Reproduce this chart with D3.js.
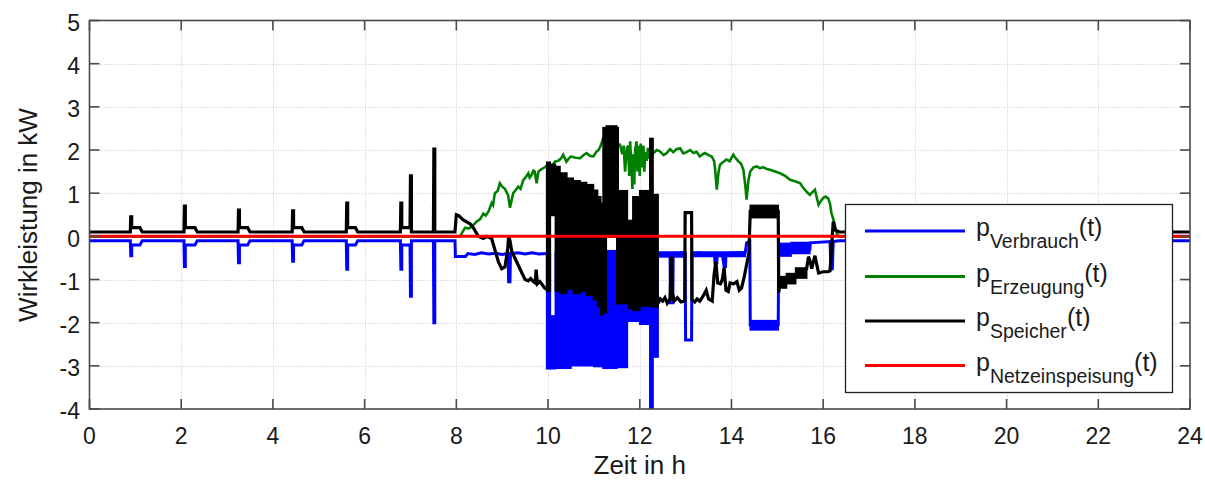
<!DOCTYPE html>
<html>
<head>
<meta charset="utf-8">
<script src="https://cdn.jsdelivr.net/npm/d3@7"></script>
<style>
  body { margin: 0; background: #fff; }
  svg { display: block; }
  text { font-family: "Liberation Sans", Arial, Helvetica, sans-serif; fill: #1a1a1a; }
</style>
</head>
<body>
<svg id="chart" width="1205" height="481"></svg>
<script>
// ---- axis ticks -------------------------------------------------------
const xTicks = [0, 2, 4, 6, 8, 10, 12, 14, 16, 18, 20, 22, 24];
const yTicks = [-4, -3, -2, -1, 0, 1, 2, 3, 4, 5];

// ---- series: [time in h, power in kW] --------------------------------
// consumption before the dense switching block
const verbrauchA = [
  [0, -0.1], [0.89, -0.1], [0.9, -0.45], [0.92, -0.45], [0.92, -0.2], [1.1, -0.2], [1.15, -0.1],
  [2.06, -0.1], [2.07, -0.7], [2.09, -0.7], [2.09, -0.2], [2.3, -0.2], [2.35, -0.1],
  [3.24, -0.1], [3.25, -0.61], [3.27, -0.61], [3.27, -0.2], [3.45, -0.2], [3.5, -0.1],
  [4.42, -0.1], [4.43, -0.58], [4.45, -0.58], [4.45, -0.2], [4.63, -0.2], [4.68, -0.1],
  [5.6, -0.1], [5.61, -0.76], [5.63, -0.76], [5.63, -0.2], [5.8, -0.2], [5.85, -0.1],
  [6.78, -0.1], [6.79, -0.76], [6.81, -0.76], [6.81, -0.2], [6.97, -0.2], [6.99, -0.2],
  [7.0, -1.39], [7.02, -1.39], [7.02, -0.1],
  [7.5, -0.1], [7.51, -2.0], [7.53, -2.0], [7.53, -0.1],
  [7.97, -0.1], [7.98, -0.47], [8.2, -0.47], [8.25, -0.4], [8.4, -0.42], [8.55, -0.38],
  [8.7, -0.41], [8.85, -0.39], [9.0, -0.42], [9.13, -0.4], [9.14, -1.05], [9.17, -1.05],
  [9.18, -0.4], [9.35, -0.38], [9.5, -0.41], [9.65, -0.38], [9.8, -0.41], [9.97, -0.4]
];
// consumption after the dense switching block
const verbrauchB = [
  [12.4, -0.4], [12.5, -0.42], [12.66, -0.4], [12.67, -1.54], [12.72, -1.54], [12.73, -0.42],
  [12.9, -0.38], [12.99, -0.4], [13.0, -2.4], [13.13, -2.4], [13.14, -0.4], [13.3, -0.38],
  [13.5, -0.42], [13.63, -0.4], [13.64, -0.62], [13.68, -0.62], [13.69, -0.42], [13.8, -0.4],
  [13.84, -0.7], [13.87, -0.7], [13.88, -0.4], [14.1, -0.38], [14.3, -0.38], [14.33, -0.15],
  [14.4, -0.12], [14.41, -2.05], [15.02, -2.05], [15.03, -0.3], [15.71, -0.3], [15.72, -0.15],
  [16.15, -0.12], [16.17, -0.75], [16.2, -0.75], [16.22, -0.12], [16.35, -0.1], [24, -0.1]
];
// rapidly switching intervals, drawn as filled envelopes: [t0, t1, low, high]
const verbrauchBands = [
  [9.97, 10.05, -3.05, -0.4],
  [10.05, 10.16, -3.05, -1.86],
  [10.16, 10.5, -3.04, -0.4],
  [10.5, 11.0, -2.98, -0.4],
  [11.0, 11.2, -3.0, -0.4],
  [11.2, 11.5, -3.04, -0.35],
  [11.5, 11.73, -3.02, -0.4],
  [11.73, 12.0, -1.95, -0.4],
  [12.0, 12.22, -2.02, -0.4],
  [12.22, 12.29, -4.0, -0.4],
  [12.29, 12.4, -2.78, -0.4],
  [12.4, 13.0, -0.46, -0.38],
  [13.13, 14.3, -0.45, -0.38],
  [14.41, 15.02, -2.15, -1.97],
  [15.03, 15.3, -0.44, -0.18],
  [15.3, 15.71, -0.38, -0.16]
];

// generation (PV)
const erzeugung = [
  [0, 0], [7.98, 0], [8.08, 0.0], [8.19, 0.2], [8.27, 0.18], [8.34, 0.23], [8.44, 0.34], [8.52, 0.4],
  [8.59, 0.53], [8.64, 0.48], [8.7, 0.57], [8.77, 0.77], [8.8, 0.72], [8.84, 1.0], [8.9, 1.05],
  [8.95, 1.23], [9.0, 1.15], [9.06, 1.1], [9.13, 0.95], [9.17, 0.66], [9.24, 1.0], [9.3, 1.08],
  [9.35, 1.15], [9.4, 1.1], [9.46, 1.3], [9.52, 1.38], [9.57, 1.46], [9.6, 1.36], [9.64, 1.42],
  [9.68, 1.52], [9.71, 1.5], [9.75, 1.23], [9.79, 1.5], [9.85, 1.55], [9.93, 1.6], [10.0, 1.66],
  [10.07, 1.6], [10.15, 1.73], [10.22, 1.75], [10.28, 1.8], [10.33, 1.89], [10.4, 1.73],
  [10.45, 1.8], [10.5, 1.85], [10.6, 1.82], [10.7, 1.81], [10.77, 1.88], [10.84, 1.93],
  [10.92, 1.86], [10.99, 1.85], [11.05, 1.95], [11.1, 2.0], [11.15, 2.1], [11.2, 2.27],
  [11.35, 2.2], [11.57, 2.12], [11.62, 1.9], [11.65, 2.1], [11.68, 1.5], [11.72, 2.05],
  [11.75, 2.1], [11.77, 1.4], [11.79, 2.2], [11.82, 1.6], [11.84, 1.1], [11.86, 1.9], [11.88, 1.2],
  [11.9, 2.0], [11.93, 2.2], [11.95, 1.5], [11.97, 2.1], [12.0, 1.4], [12.02, 2.15], [12.04, 1.6],
  [12.08, 2.1], [12.1, 1.5], [12.12, 1.95], [12.15, 1.75], [12.18, 2.05], [12.2, 1.8],
  [12.25, 2.0], [12.3, 1.93], [12.37, 2.0], [12.44, 1.97], [12.52, 1.88], [12.59, 1.93],
  [12.66, 2.02], [12.73, 1.95], [12.8, 2.02], [12.88, 2.04], [12.95, 1.92], [13.02, 1.95],
  [13.1, 2.0], [13.17, 1.93], [13.24, 1.96], [13.31, 1.85], [13.37, 1.9], [13.42, 1.93],
  [13.5, 1.88], [13.57, 1.85], [13.62, 1.75], [13.64, 1.6], [13.68, 1.08], [13.72, 1.5],
  [13.75, 1.66], [13.82, 1.72], [13.89, 1.78], [13.96, 1.74], [14.04, 1.89], [14.1, 1.8],
  [14.15, 1.74], [14.21, 1.68], [14.26, 1.54], [14.3, 1.2], [14.33, 0.85], [14.37, 1.3],
  [14.41, 1.5], [14.48, 1.6], [14.55, 1.62], [14.62, 1.58], [14.7, 1.6], [14.77, 1.56],
  [14.84, 1.54], [14.95, 1.5], [15.06, 1.46], [15.17, 1.4], [15.28, 1.31], [15.4, 1.27],
  [15.5, 1.23], [15.55, 1.15], [15.6, 1.08], [15.65, 1.02], [15.71, 0.96], [15.76, 1.02],
  [15.82, 1.08], [15.86, 0.9], [15.9, 0.73], [15.95, 0.82], [16.0, 0.89], [16.05, 0.92],
  [16.11, 0.88], [16.15, 0.75], [16.18, 0.54], [16.22, 0.4], [16.26, 0.23], [16.3, 0.05],
  [16.35, 0], [24, 0]
];

// storage before the dense switching block
const speicherA = [
  [0, 0.1], [0.89, 0.1], [0.9, 0.45], [0.92, 0.45], [0.92, 0.2], [1.1, 0.2], [1.15, 0.1],
  [2.06, 0.1], [2.07, 0.7], [2.09, 0.7], [2.09, 0.2], [2.3, 0.2], [2.35, 0.1],
  [3.24, 0.1], [3.25, 0.61], [3.27, 0.61], [3.27, 0.2], [3.45, 0.2], [3.5, 0.1],
  [4.42, 0.1], [4.43, 0.59], [4.45, 0.59], [4.45, 0.2], [4.63, 0.2], [4.68, 0.1],
  [5.6, 0.1], [5.61, 0.77], [5.63, 0.77], [5.63, 0.2], [5.8, 0.2], [5.85, 0.1],
  [6.78, 0.1], [6.79, 0.77], [6.81, 0.77], [6.81, 0.2], [6.97, 0.2], [6.99, 0.2],
  [7.0, 1.4], [7.02, 1.4], [7.02, 0.1],
  [7.5, 0.1], [7.51, 2.02], [7.53, 2.02], [7.53, 0.1],
  [7.97, 0.1], [8.0, 0.5], [8.05, 0.48], [8.15, 0.38], [8.3, 0.29], [8.37, 0.2], [8.48, 0.0],
  [8.59, -0.05], [8.66, 0.0], [8.77, -0.05], [8.84, -0.31], [8.92, -0.6], [8.99, -0.75],
  [9.06, -0.71], [9.12, -0.3], [9.14, 0.0], [9.17, -0.1], [9.21, -0.35], [9.32, -0.6],
  [9.43, -0.85], [9.5, -1.0], [9.57, -1.03], [9.62, -0.98], [9.68, -1.05], [9.72, -1.08],
  [9.74, -0.77], [9.77, -1.1], [9.82, -1.05], [9.86, -1.1], [9.93, -1.2], [9.97, -1.22]
];
// storage after the dense switching block
const speicherB = [
  [12.4, -1.55], [12.45, -1.45], [12.5, -1.5], [12.55, -1.42], [12.6, -1.55], [12.66, -1.45],
  [12.69, -0.47], [12.71, -1.3], [12.75, -1.5], [12.82, -1.42], [12.9, -1.52], [12.98, -1.5],
  [12.99, 0.55], [13.13, 0.55], [13.14, -1.47], [13.2, -1.52], [13.25, -1.45], [13.31, -1.5],
  [13.36, -1.42], [13.4, -1.35], [13.45, -1.25], [13.5, -1.45], [13.58, -1.5], [13.62, -0.9],
  [13.66, -0.58], [13.7, -1.08], [13.76, -1.1], [13.8, -1.0], [13.84, -0.73], [13.88, -1.25],
  [13.93, -1.28], [13.97, -1.08], [14.05, -1.1], [14.12, -1.05], [14.17, -1.25], [14.22, -1.2],
  [14.28, -0.93], [14.34, -0.6], [14.38, -0.39], [14.41, 0.58], [15.02, 0.58], [15.03, -1.3],
  [15.06, -1.1], [15.2, -1.0], [15.35, -0.95], [15.5, -0.85], [15.64, -0.75], [15.68, -0.47],
  [15.72, -0.6], [15.75, -0.75], [15.82, -0.45], [15.87, -0.7], [15.9, -0.85], [16.0, -0.82],
  [16.1, -0.82], [16.15, -0.8], [16.18, -0.31], [16.22, 0.34], [16.26, 0.15], [16.35, 0.1],
  [24, 0.1]
];
const speicherBands = [
  [9.97, 10.05, -1.25, 1.7],
  [10.05, 10.16, 0.5, 1.65],
  [10.16, 10.26, -1.25, 1.6],
  [10.26, 10.41, -1.3, 1.45],
  [10.41, 10.55, -1.2, 1.33],
  [10.55, 10.7, -1.3, 1.27],
  [10.7, 10.84, -1.25, 1.23],
  [10.84, 10.99, -1.35, 1.18],
  [10.99, 11.08, -1.45, 1.05],
  [11.08, 11.15, -1.6, 0.9],
  [11.15, 11.2, -1.8, 0.75],
  [11.2, 11.27, -1.75, 2.5],
  [11.27, 11.5, 0.0, 2.54],
  [11.5, 11.53, -1.55, 2.5],
  [11.53, 11.73, -1.54, 1.04],
  [11.76, 11.85, -1.65, 0.35],
  [11.85, 12.0, -1.7, 0.9],
  [12.0, 12.22, -1.6, 1.04],
  [12.22, 12.29, -1.6, 2.25],
  [12.29, 12.4, -1.62, 0.95],
  [14.41, 15.02, 0.45, 0.7],
  [15.03, 15.2, -1.18, -0.95],
  [15.2, 15.4, -1.08, -0.88],
  [15.4, 15.64, -0.95, -0.75]
];

// grid feed-in
const netz = [[0, 0], [24, 0]];

// ---- legend -----------------------------------------------------------
const legendColors = ["#0000ff", "#008000", "#000000", "#ff0000"];
const legendSubs = ["Verbrauch", "Erzeugung", "Speicher", "Netzeinspeisung"];

// ---- layout -----------------------------------------------------------
const L = 89.5, R = 1190, T = 20.5, B = 409;
const svg = d3.select("#chart");
const x = d3.scaleLinear().domain([0, 24]).range([L, R]);
const y = d3.scaleLinear().domain([-4, 5]).range([B, T]);

svg.append("rect").attr("x", 0).attr("y", 0).attr("width", 1205).attr("height", 481).attr("fill", "#fff");

// grid
const grid = svg.append("g").attr("stroke", "#c4c4c4").attr("stroke-width", 1).attr("stroke-dasharray", "1,2");
grid.selectAll(".gx").data(xTicks.slice(1, -1)).join("line")
  .attr("x1", d => Math.round(x(d)) + 0.5).attr("x2", d => Math.round(x(d)) + 0.5)
  .attr("y1", T).attr("y2", B);
grid.selectAll(".gy").data(yTicks.slice(1, -1)).join("line")
  .attr("y1", d => Math.round(y(d)) + 0.5).attr("y2", d => Math.round(y(d)) + 0.5)
  .attr("x1", L).attr("x2", R);

// data
svg.append("clipPath").attr("id", "plotClip")
  .append("rect").attr("x", L).attr("y", T).attr("width", R - L).attr("height", B - T);
const plot = svg.append("g").attr("clip-path", "url(#plotClip)");

const line = d3.line().x(d => x(d[0])).y(d => y(d[1]));
function drawBands(data, color) {
  plot.append("g").selectAll("rect").data(data).join("rect")
    .attr("x", d => x(d[0]) - 0.8)
    .attr("width", d => x(d[1]) - x(d[0]) + 1.6)
    .attr("y", d => y(d[3]) - 1.5)
    .attr("height", d => y(d[2]) - y(d[3]) + 3)
    .attr("fill", color);
}
function drawLine(data, color, w) {
  plot.append("path").datum(data).attr("d", line)
    .attr("fill", "none").attr("stroke", color).attr("stroke-width", w)
    .attr("stroke-linejoin", "miter").attr("stroke-miterlimit", 3);
}

drawBands(verbrauchBands, legendColors[0]);
drawLine(verbrauchA, legendColors[0], 3);
drawLine(verbrauchB, legendColors[0], 3);
drawLine(erzeugung, legendColors[1], 2.6);
drawBands(speicherBands, legendColors[2]);
drawLine(speicherA, legendColors[2], 3.2);
drawLine(speicherB, legendColors[2], 3.2);
drawLine(netz, legendColors[3], 3);

// axes box and inward ticks
const axisColor = "#4a4a4a";
const tickLen = 10;
const ax = svg.append("g").attr("stroke", axisColor).attr("stroke-width", 1.6);
ax.selectAll(".tb").data(xTicks).join("line")
  .attr("x1", d => x(d)).attr("x2", d => x(d)).attr("y1", B).attr("y2", B - tickLen);
ax.selectAll(".tt").data(xTicks).join("line")
  .attr("x1", d => x(d)).attr("x2", d => x(d)).attr("y1", T).attr("y2", T + tickLen);
ax.selectAll(".tl").data(yTicks).join("line")
  .attr("y1", d => y(d)).attr("y2", d => y(d)).attr("x1", L).attr("x2", L + tickLen);
ax.selectAll(".tr").data(yTicks).join("line")
  .attr("y1", d => y(d)).attr("y2", d => y(d)).attr("x1", R).attr("x2", R - tickLen);
ax.append("rect").attr("x", L).attr("y", T).attr("width", R - L).attr("height", B - T).attr("fill", "none");

// tick labels
svg.append("g").selectAll("text").data(xTicks).join("text")
  .attr("x", d => x(d)).attr("y", 443.5)
  .attr("text-anchor", "middle").attr("font-size", 23)
  .text(d => d);
svg.append("g").selectAll("text").data(yTicks).join("text")
  .attr("x", 80).attr("y", d => y(d) + 10.3)
  .attr("text-anchor", "end").attr("font-size", 23)
  .text(d => d);

// axis titles
svg.append("text").attr("x", (L + R) / 2).attr("y", 474)
  .attr("text-anchor", "middle").attr("font-size", 26).text("Zeit in h");
svg.append("text").attr("transform", "translate(36.5,215) rotate(-90)")
  .attr("text-anchor", "middle").attr("font-size", 26).text("Wirkleistung in kW");

// legend
const lg = svg.append("g");
lg.append("rect").attr("x", 845.5).attr("y", 204.5).attr("width", 327).attr("height", 188)
  .attr("fill", "#fff").attr("stroke", "#222").attr("stroke-width", 1.3);
const rowY = [231, 276.5, 321, 365.5];
legendSubs.forEach((s, i) => {
  lg.append("line").attr("x1", 865).attr("x2", 965).attr("y1", rowY[i]).attr("y2", rowY[i])
    .attr("stroke", legendColors[i]).attr("stroke-width", 3);
  const t = lg.append("text").attr("x", 976).attr("y", rowY[i] + 5);
  t.append("tspan").attr("font-size", 25).text("p");
  t.append("tspan").attr("font-size", 19.5).attr("dy", 12.3).text(s);
  t.append("tspan").attr("font-size", 25).attr("dy", -12.3).text("(t)");
});
</script>
</body>
</html>
